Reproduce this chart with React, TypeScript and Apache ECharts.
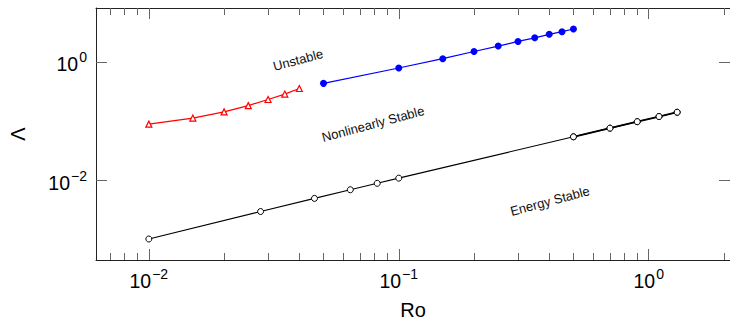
import React, { useEffect, useRef } from "react";
import * as echarts from "echarts";

// ---- data ----
const unstableRo = [0.01, 0.015, 0.02, 0.025, 0.03, 0.035, 0.04];
const unstableLambda = [0.09, 0.114, 0.145, 0.185, 0.235, 0.29, 0.36];

const nonlinRo = [0.05, 0.1, 0.15, 0.2, 0.25, 0.3, 0.35, 0.4, 0.45, 0.5];
const nonlinLambda = [0.44, 0.8, 1.15, 1.52, 1.88, 2.25, 2.59, 2.97, 3.29, 3.65];

const energyRo = [0.01, 0.028, 0.046, 0.064, 0.082, 0.1, 0.5, 0.7, 0.9, 1.1, 1.3];
const energyLambda = [0.00103, 0.003, 0.005, 0.007, 0.009, 0.011, 0.055, 0.077, 0.099, 0.121, 0.143];

// tick labels (powers of ten)
const xMajorExponents = [-2, -1, 0];
const yMajorExponents = [-2, 0];
const minorMultipliers = [2, 3, 4, 5, 6, 7, 8, 9];

const regionLabels = ["Unstable", "Nonlinearly Stable", "Energy Stable"];

const FONT = "Liberation Sans, Arial, Helvetica, sans-serif";

const log10 = Math.log10;
const toPts = (xs: number[], ys: number[]) => xs.map((x, i) => [log10(x), log10(ys[i])]);

export default function App() {
  const ref = useRef<HTMLDivElement>(null);

  useEffect(() => {
    if (!ref.current) return;
    const chart = echarts.init(ref.current, undefined, { renderer: "svg" });

    const allX = [...unstableRo, ...nonlinRo, ...energyRo].map(log10);
    const allY = [...unstableLambda, ...nonlinLambda, ...energyLambda].map(log10);
    const xLo0 = Math.min(...allX), xHi0 = Math.max(...allX);
    const yLo0 = Math.min(...allY), yHi0 = Math.max(...allY);
    const xPad = 0.1 * (xHi0 - xLo0), yPad = 0.1 * (yHi0 - yLo0);
    const xMin = xLo0 - xPad, xMax = xHi0 + xPad;
    const yMin = yLo0 - yPad, yMax = yHi0 + yPad;

    const xMinor: number[] = [];
    for (let d = -3; d <= 1; d++) {
      for (const k of minorMultipliers) {
        const v = log10(k) + d;
        if (v > xMin && v < xMax) xMinor.push(v);
      }
    }

    const supFmt = (v: number) => {
      const e = Math.round(v);
      return `{b|10}{s|${e < 0 ? "\u2212" + Math.abs(e) : e}}`;
    };
    const rich = {
      b: { fontSize: 19.5, fontFamily: FONT, color: "#000", verticalAlign: "bottom", padding: [4, 0, 0, 0] },
      s: { fontSize: 14, fontFamily: FONT, color: "#000", verticalAlign: "top", padding: [0, 0, 0, 1] },
    };

    const tickStyle = { color: "#666", width: 1 };
    const lineStyle = { color: "#222", width: 1 };

    const xAxisBase = (position: string) => ({
      type: "value",
      min: xMin,
      max: xMax,
      position,
      splitLine: { show: false },
    });
    const yAxisBase = (position: string) => ({
      type: "value",
      min: yMin,
      max: yMax,
      position,
      splitLine: { show: false },
    });

    chart.setOption({
      animation: false,
      backgroundColor: "#fff",
      grid: { left: 95, top: 8, right: -1, bottom: 59, containLabel: false },
      xAxis: [
        {
          ...xAxisBase("bottom"),
          name: "Ro",
          nameLocation: "middle",
          nameGap: 40,
          nameTextStyle: { fontSize: 20, fontFamily: FONT, color: "#000" },
          axisLine: { show: true, onZero: false, lineStyle },
          axisTick: { show: true, inside: true, length: 11, customValues: xMajorExponents, lineStyle: tickStyle },
          axisLabel: { show: true, customValues: xMajorExponents, margin: 7, formatter: supFmt, rich },
        },
        {
          ...xAxisBase("bottom"),
          axisLine: { show: false, onZero: false },
          axisTick: { show: true, inside: true, length: 7, customValues: xMinor, lineStyle: tickStyle },
          axisLabel: { show: false },
        },
        {
          ...xAxisBase("top"),
          axisLine: { show: true, onZero: false, lineStyle },
          axisTick: { show: true, inside: true, length: 11, customValues: xMajorExponents, lineStyle: tickStyle },
          axisLabel: { show: false },
        },
        {
          ...xAxisBase("top"),
          axisLine: { show: false, onZero: false },
          axisTick: { show: true, inside: true, length: 7, customValues: xMinor, lineStyle: tickStyle },
          axisLabel: { show: false },
        },
      ],
      yAxis: [
        {
          ...yAxisBase("left"),
          name: "\u039B",
          nameLocation: "middle",
          nameGap: 68,
          nameRotate: 90,
          nameTextStyle: { fontSize: 20, fontFamily: FONT, color: "#000" },
          axisLine: { show: true, onZero: false, lineStyle },
          axisTick: { show: true, inside: true, length: 11, customValues: yMajorExponents, lineStyle: tickStyle },
          axisLabel: { show: true, customValues: yMajorExponents, margin: 9, formatter: supFmt, rich },
        },
        {
          ...yAxisBase("right"),
          axisLine: { show: true, onZero: false, lineStyle },
          axisTick: { show: true, inside: true, length: 11, customValues: yMajorExponents, lineStyle: tickStyle },
          axisLabel: { show: false },
        },
      ],
      series: [
        {
          name: "Unstable",
          type: "line",
          data: toPts(unstableRo, unstableLambda),
          symbol: "triangle",
          symbolSize: 6,
          lineStyle: { color: "#ff0000", width: 1.2 },
          itemStyle: { color: "#fff", borderColor: "#ff0000", borderWidth: 1.2 },
        },
        {
          name: "Nonlinearly Stable",
          type: "line",
          data: toPts(nonlinRo, nonlinLambda),
          symbol: "circle",
          symbolSize: 7,
          lineStyle: { color: "#0000ff", width: 1.2 },
          itemStyle: { color: "#0000ff", borderWidth: 0 },
        },
        {
          name: "Energy Stable",
          type: "line",
          data: toPts(energyRo, energyLambda),
          symbol: "circle",
          symbolSize: 6,
          lineStyle: { color: "#000", width: 1.1 },
          itemStyle: { color: "#fff", borderColor: "#000", borderWidth: 1 },
          z: 3,
        },
        {
          name: "Energy Stable (high Ro)",
          type: "line",
          data: toPts(
            energyRo.filter((r) => r >= 0.5),
            energyLambda.filter((_, i) => energyRo[i] >= 0.5)
          ),
          symbol: "circle",
          symbolSize: 6,
          lineStyle: { color: "#000", width: 1.8 },
          itemStyle: { color: "#fff", borderColor: "#000", borderWidth: 1 },
          z: 4,
        },
      ],
      graphic: [
        { pos: [298, 60] },
        { pos: [373, 124] },
        { pos: [550, 201] },
      ].map((g, i) => ({
        type: "text",
        x: g.pos[0],
        y: g.pos[1],
        rotation: (15 * Math.PI) / 180,
        style: {
          text: regionLabels[i],
          fontSize: 13,
          fontFamily: FONT,
          fill: "#111",
          align: "center",
          verticalAlign: "middle",
        },
      })),
    });

    return () => chart.dispose();
  }, []);

  return (
    <div
      ref={ref}
      style={{ position: "absolute", left: 0, top: 0, width: 730, height: 325 }}
    />
  );
}
